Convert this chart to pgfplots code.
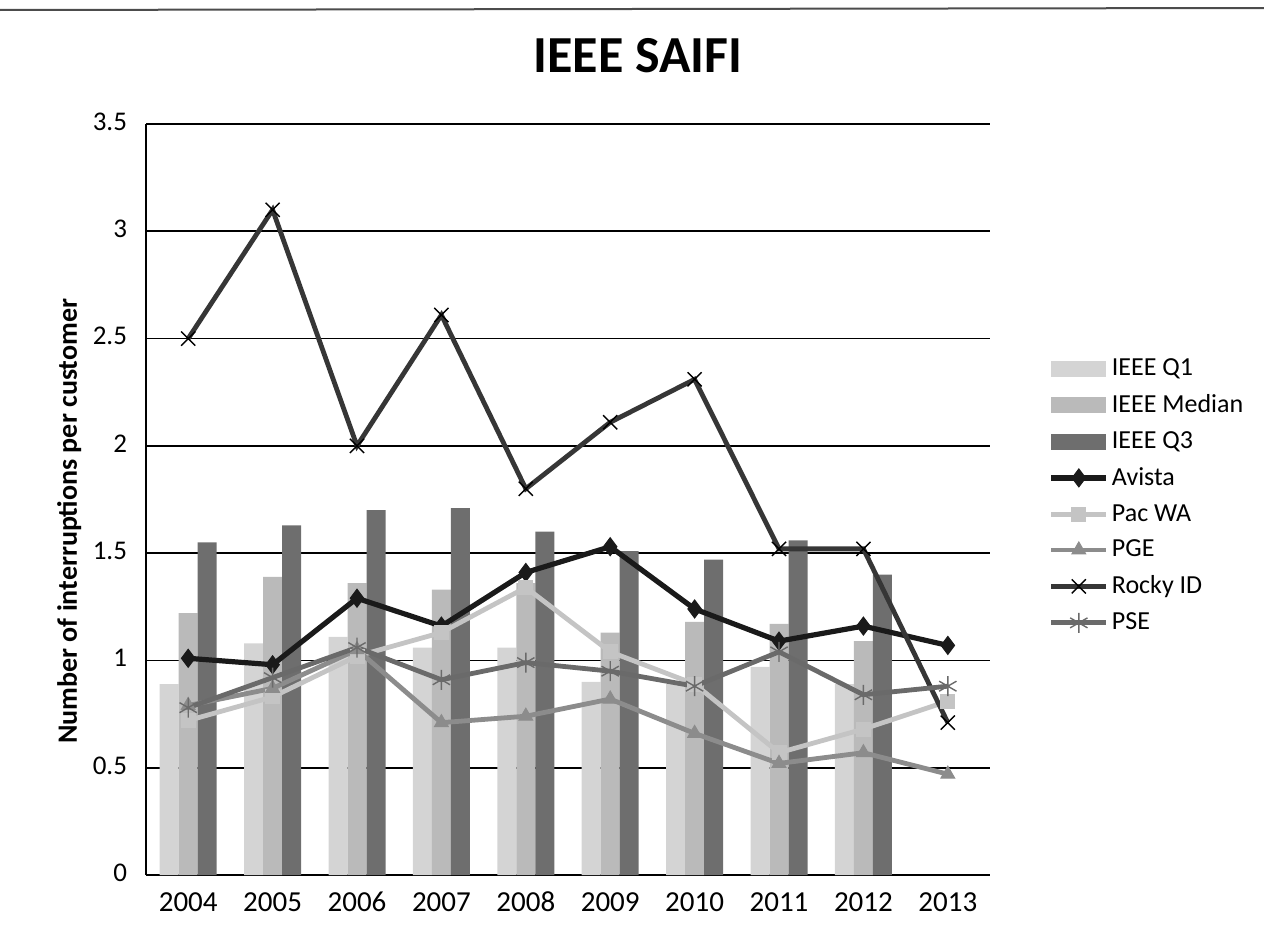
\documentclass[border=0pt]{standalone}
\usepackage{fontspec}
\setmainfont{Carlito}
\usepackage{pgfplots}
\pgfplotsset{compat=1.18}
\definecolor{cQone}{HTML}{D4D4D4}
\definecolor{cMed}{HTML}{BABABA}
\definecolor{cQthree}{HTML}{6E6E6E}
\definecolor{cAvista}{HTML}{1A1A1A}
\definecolor{cPac}{HTML}{C4C4C4}
\definecolor{cPGE}{HTML}{8C8C8C}
\definecolor{cRocky}{HTML}{363636}
\definecolor{cPSE}{HTML}{6A6A6A}
\pgfplotsset{
  barleg/.style={legend image code/.code={\draw[##1,draw=none] (0bp,-4bp) rectangle (27.5bp,4bp);}},
}
\begin{document}
\begin{tikzpicture}
\path[use as bounding box] (0,0) rectangle (632bp,-462.5bp);
\draw[line width=1bp, black!70] (0,-5bp) -- (632bp,-4bp);
\begin{axis}[
  at={(73bp,-437.5bp)}, anchor=south west,
  scale only axis, width=422bp, height=375.5bp,
  xmin=-0.5, xmax=9.5, ymin=0, ymax=3.5,
  xtick={0,1,2,3,4,5,6,7,8,9},
  xticklabels={2004,2005,2006,2007,2008,2009,2010,2011,2012,2013},
  ytick={0,0.5,1,1.5,2,2.5,3,3.5},
  axis x line*=bottom, axis y line*=left,
  axis line style={black, line width=0.8bp},
  xtick style={draw=none},
  ytick style={draw=none},
  ymajorgrids, grid style={black, line width=0.8bp},
  /pgf/number format/assume math mode=true,
  typeset ticklabels with strut,
  xticklabel style={yshift=-3bp, font=\fontsize{14.5bp}{17bp}\selectfont},
  yticklabel style={xshift=-6bp, font=\fontsize{13.5bp}{16bp}\selectfont},
  title={\textbf{IEEE SAIFI}},
  title style={at={(axis description cs:0.583,1.075)}, anchor=center, font=\fontsize{26bp}{30bp}\selectfont},
  ylabel={\textbf{Number of interruptions per customer}},
  ylabel style={at={(axis description cs:-0.091,0.471)}, anchor=center, font=\fontsize{14bp}{17bp}\selectfont},
  legend style={at={(1.062,0.505)}, anchor=west, draw=none, fill=none,
    font=\fontsize{13bp}{15bp}\selectfont, row sep=5bp,
    nodes={inner sep=1.5bp}},
  legend cell align=left,
  legend image code/.code={\draw[mark repeat=2,mark phase=2,#1] plot coordinates {(0bp,0bp) (13.75bp,0bp) (27.5bp,0bp)};},
]
% bars
\addplot[ybar, bar width=9.5bp, bar shift=-9.5bp, fill=cQone, draw=none, barleg]
  coordinates {(0,0.89) (1,1.08) (2,1.11) (3,1.06) (4,1.06) (5,0.90) (6,0.89) (7,0.97) (8,0.89)};
\addlegendentry{IEEE Q1}
\addplot[ybar, bar width=9.5bp, bar shift=0bp, fill=cMed, draw=none, barleg]
  coordinates {(0,1.22) (1,1.39) (2,1.36) (3,1.33) (4,1.36) (5,1.13) (6,1.18) (7,1.17) (8,1.09)};
\addlegendentry{IEEE Median}
\addplot[ybar, bar width=9.5bp, bar shift=9.5bp, fill=cQthree, draw=none, barleg]
  coordinates {(0,1.55) (1,1.63) (2,1.70) (3,1.71) (4,1.60) (5,1.51) (6,1.47) (7,1.56) (8,1.40)};
\addlegendentry{IEEE Q3}
% lines
\addplot[sharp plot, color=cAvista, line width=2.6bp, mark=diamond*, mark size=4.5bp, mark options={solid, fill=cAvista, line width=0.5bp}]
  coordinates {(0,1.01) (1,0.98) (2,1.29) (3,1.16) (4,1.41) (5,1.53) (6,1.24) (7,1.09) (8,1.16) (9,1.07)};
\addlegendentry{Avista}
\addplot[sharp plot, color=cPac, line width=2.4bp, mark=square*, mark size=3.5bp, mark options={solid, fill=cPac, line width=0.5bp}]
  coordinates {(0,0.72) (1,0.83) (2,1.02) (3,1.13) (4,1.34) (5,1.04) (6,0.89) (7,0.57) (8,0.68) (9,0.81)};
\addlegendentry{Pac WA}
\addplot[sharp plot, color=cPGE, line width=2.4bp, mark=triangle*, mark size=4bp, mark options={solid, fill=cPGE, line width=0.5bp}]
  coordinates {(0,0.79) (1,0.87) (2,1.05) (3,0.71) (4,0.74) (5,0.82) (6,0.66) (7,0.52) (8,0.57) (9,0.47)};
\addlegendentry{PGE}
\addplot[sharp plot, color=cRocky, line width=2.4bp, mark=x, mark size=5bp, mark options={solid, draw=black, line width=0.7bp}]
  coordinates {(0,2.50) (1,3.10) (2,2.00) (3,2.61) (4,1.80) (5,2.11) (6,2.31) (7,1.52) (8,1.52) (9,0.71)};
\addlegendentry{Rocky ID}
\addplot[sharp plot, color=cPSE, line width=2.4bp, mark=asterisk, mark size=5bp, mark options={solid, draw=cPSE, line width=0.7bp}]
  coordinates {(0,0.78) (1,0.92) (2,1.06) (3,0.91) (4,0.99) (5,0.95) (6,0.88) (7,1.04) (8,0.84) (9,0.88)};
\addlegendentry{PSE}
\end{axis}
\end{tikzpicture}
\end{document}
